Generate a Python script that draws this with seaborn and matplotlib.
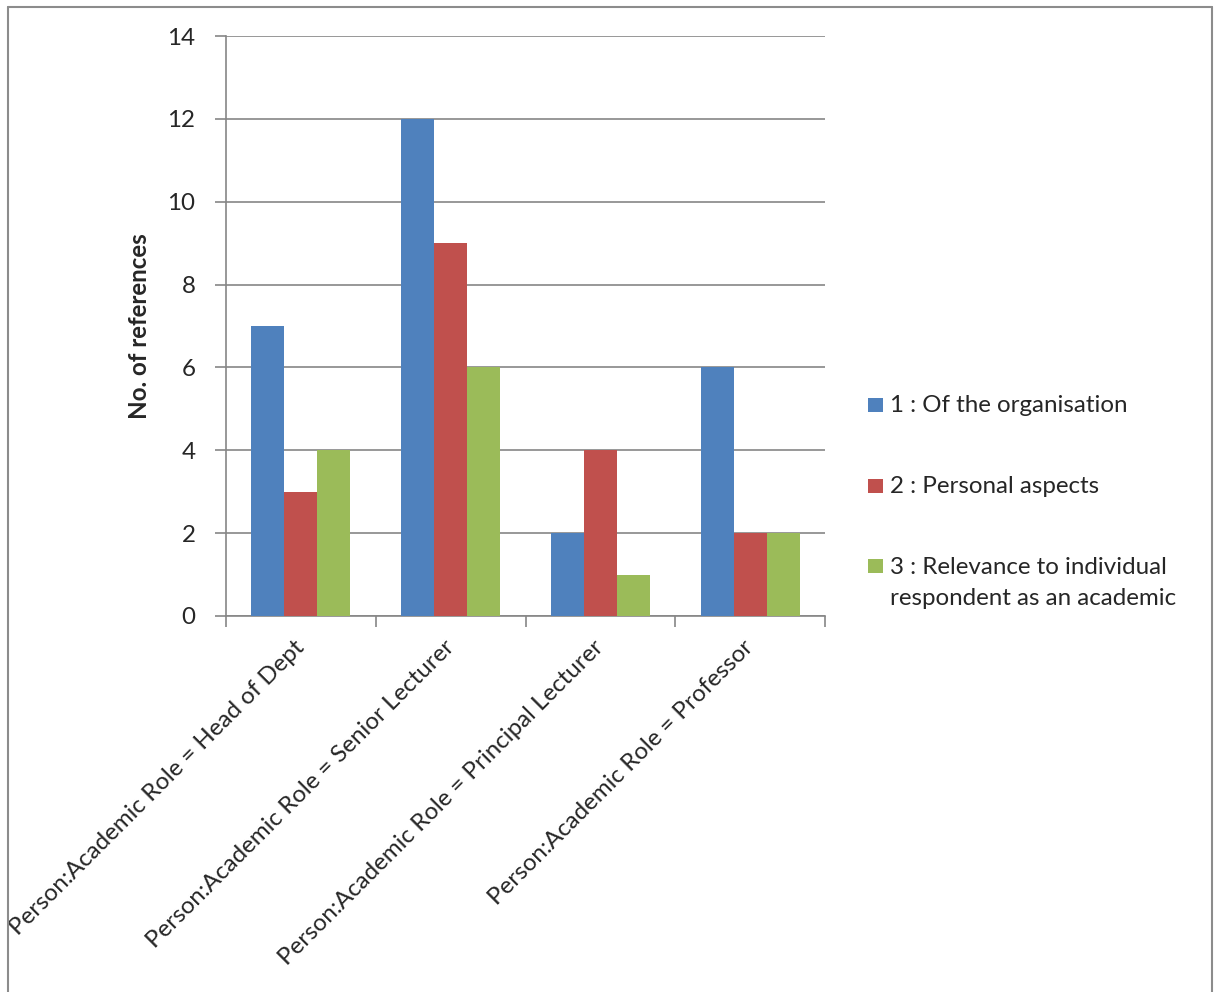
import matplotlib
matplotlib.use("Agg")
import matplotlib.pyplot as plt
from matplotlib.lines import Line2D
from matplotlib.patches import Rectangle
import seaborn as sns
import pandas as pd

categories = [
    "Person:Academic Role = Head of Dept",
    "Person:Academic Role = Senior Lecturer",
    "Person:Academic Role = Principal Lecturer",
    "Person:Academic Role = Professor",
]
series_names = [
    "1 : Of the organisation",
    "2 : Personal aspects",
    "3 : Relevance to individual\nrespondent as an academic",
]
organisation = [7, 12, 2, 6]
personal = [3, 9, 4, 2]
relevance = [4, 6, 1, 2]
colors = ["#4F81BD", "#C0504D", "#9BBB59"]
y_ticks = [0, 2, 4, 6, 8, 10, 12, 14]

rows = []
for name, vals in zip(series_names, [organisation, personal, relevance]):
    for cat, v in zip(categories, vals):
        rows.append({"Role": cat, "Node": name, "Refs": v})
df = pd.DataFrame(rows)

sns.set_style("white")
plt.rcParams["font.family"] = ["Lato", "DejaVu Sans"]
FS = 17.4

W, H = 1218, 992
fig = plt.figure(figsize=(W / 100, H / 100), dpi=100)
ax = fig.add_axes([226 / W, 1 - 616 / H, (825 - 226) / W, (616 - 36) / H])

sns.barplot(data=df, x="Role", y="Refs", hue="Node", order=categories,
            hue_order=series_names, palette=colors, width=0.66,
            saturation=1, linewidth=0, ax=ax, legend=False, zorder=3)

grid_c = "#868686"
ax.set_ylim(0, 14)
ax.set_xlim(-0.5, len(categories) - 0.5)
ax.set_yticks(y_ticks)
ax.set_yticklabels([str(t) for t in y_ticks], fontsize=FS)
for t in y_ticks:
    ax.axhline(t, color=grid_c, lw=1.2, zorder=1)

ax.set_xticks(range(len(categories)))
ax.set_xticklabels(categories, rotation=45, ha="right", va="center",
                   rotation_mode="anchor", fontsize=FS)
ax.tick_params(axis="x", length=0, pad=20)
ax.tick_params(axis="y", length=8, width=1.2, color=grid_c, direction="out", pad=14)
# minor ticks at the category boundaries
ax.set_xticks([i - 0.5 for i in range(len(categories) + 1)], minor=True)
ax.tick_params(axis="x", which="minor", length=8, width=1.2, color=grid_c,
               direction="out")
ax.yaxis.set_ticks_position("left")
ax.xaxis.set_ticks_position("bottom")

for s in ["top", "right"]:
    ax.spines[s].set_visible(False)
for s in ["left", "bottom"]:
    ax.spines[s].set_color(grid_c)
    ax.spines[s].set_linewidth(1.2)

ax.set_xlabel("")
ax.set_ylabel("No. of references", fontsize=FS, fontweight="bold", labelpad=12)

# legend: square key aligned with the first line of each label
legend_baselines = [412, 493, 573]
line_step = 32
for name, c, yb in zip(series_names, colors, legend_baselines):
    fig.add_artist(Rectangle((868 / W, 1 - yb / H), 15 / W, 14 / H,
                             transform=fig.transFigure, facecolor=c,
                             edgecolor="none"))
    extra = name.count("\n")
    y_last = yb + line_step * extra
    fig.text(890 / W, 1 - y_last / H, name, fontsize=FS, va="baseline",
             ha="left", multialignment="left", linespacing=1.58)

# outer chart frame
frame_c = "#8C8C8C"
fig.add_artist(Line2D([8 / W, 8 / W], [0, 1 - 7 / H], transform=fig.transFigure,
                      color=frame_c, lw=1.5))
fig.add_artist(Line2D([8 / W, 1212 / W], [1 - 7 / H, 1 - 7 / H],
                      transform=fig.transFigure, color=frame_c, lw=1.5))
fig.add_artist(Line2D([1212 / W, 1212 / W], [0, 1 - 7 / H], transform=fig.transFigure,
                      color=frame_c, lw=1.5))

fig.savefig("out.png", dpi=100)
